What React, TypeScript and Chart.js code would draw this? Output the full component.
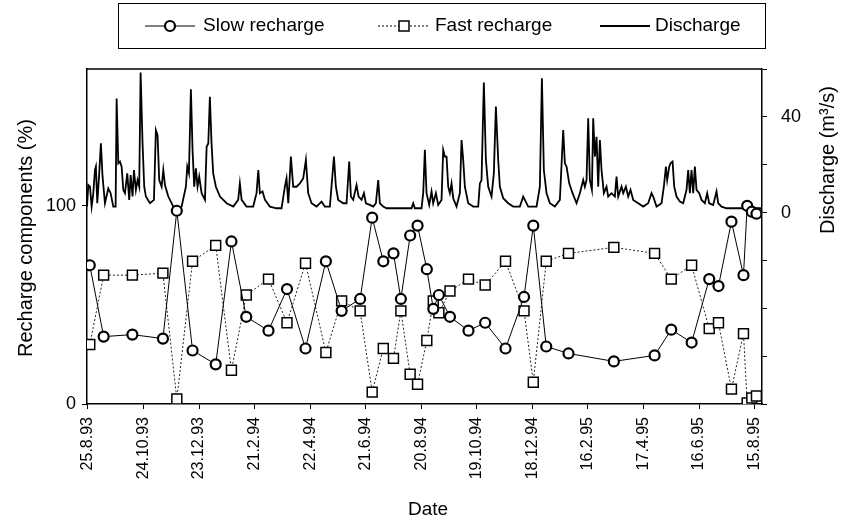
import React, { useEffect, useRef } from 'react';
import { Chart, registerables } from 'chart.js';

Chart.register(...registerables);

// x axis: days since 25.8.93
const tickDays = [0, 60, 120, 180, 240, 300, 360, 420, 480, 540, 600, 660, 720];
const tickLabels = ['25.8.93', '24.10.93', '23.12.93', '21.2.94', '22.4.94', '21.6.94', '20.8.94', '19.10.94', '18.12.94', '16.2.95', '17.4.95', '16.6.95', '15.8.95'];

const sampleDays = [2, 17, 48, 81, 96, 113, 138, 155, 171, 195, 215, 235, 257, 274, 294, 307, 319, 330, 338, 348, 356, 366, 373, 379, 391, 411, 429, 451, 471, 481, 495, 519, 568, 612, 630, 652, 671, 681, 695, 708, 712, 717, 722];
const slowRecharge = [70, 34, 35, 33, 97.5, 27, 20, 82, 44, 37, 58, 28, 72, 47, 53, 94, 72, 76, 53, 85, 90, 68, 48, 55, 44, 37, 41, 28, 54, 90, 29, 25.5, 21.5, 24.5, 37.5, 31, 63, 59.5, 92, 65, 100, 97, 96];
const fastRecharge = [30, 65, 65, 66, 2.5, 72, 80, 17, 55, 63, 41, 71, 26, 52, 47, 6, 28, 23, 47, 15, 10, 32, 52, 46, 57, 63, 60, 72, 47, 11, 72, 76, 79, 76, 63, 70, 38, 41, 7.5, 35.5, 0.5, 3, 4];

const dischargeDays = [
  -1, 0.4, 2.2, 4.0, 5.8, 7.6, 8.6, 10.1, 12.2, 14.0, 15.8, 18.4, 22.0, 24.5, 27.4, 29.9, 31.0, 32.8, 34.6, 36.4,
  38.2, 40.0, 42.5, 44.6, 46.1, 48.2, 49.7, 51.8, 53.6, 55.4, 56.9, 59.0, 60.8, 62.6, 67.0, 71.3, 73.4, 75.2, 77.0, 79.6,
  81.4, 83.2, 86.8, 92.2, 95.8, 101.2, 105.8, 107.3, 109.1, 111.2, 113.0, 114.8, 116.6, 118.4, 120.2, 122.8, 126.4, 128.2, 130.0, 131.7,
  133.5, 135.3, 138.2, 142.6, 149.8, 157.0, 162.3, 164.1, 166.0, 171.3, 178.5, 182.1, 184.0, 185.7, 188.6, 191.2, 196.5, 203.7, 209.1, 212.7,
  214.5, 216.4, 219.2, 221.7, 225.3, 228.9, 232.5, 235.4, 237.9, 241.5, 246.9, 252.3, 255.9, 261.3, 265.7, 267.8, 270.3, 275.7, 279.3, 282.2,
  284.0, 286.5, 290.1, 292.3, 295.5, 298.1, 300.2, 304.5, 308.1, 311.0, 313.5, 315.3, 318.9, 322.5, 349.5, 351.3, 353.1, 360.3, 362.1, 363.9,
  365.7, 368.6, 371.1, 372.9, 375.8, 378.3, 381.9, 383.7, 385.5, 387.3, 389.1, 390.9, 392.7, 394.5, 398.1, 401.7, 403.5, 405.3, 407.1, 410.7,
  416.1, 421.5, 423.3, 425.1, 427.6, 429.8, 432.3, 435.9, 438.4, 440.6, 443.1, 444.9, 448.5, 453.9, 459.3, 466.5, 470.1, 471.9, 475.5, 484.5,
  488.1, 490.3, 492.4, 495.3, 498.9, 504.3, 509.7, 513.3, 515.1, 516.9, 519.8, 523.4, 527.7, 531.3, 534.9, 536.7, 538.5, 540.3, 542.1, 544.3,
  545.7, 547.5, 549.3, 551.1, 552.9, 554.7, 557.2, 560.1, 561.9, 565.5, 569.1, 570.9, 572.7, 576.3, 578.1, 581.0, 583.5, 586.0, 588.9, 594.3,
  599.7, 605.1, 608.7, 610.5, 614.1, 619.5, 622.0, 624.2, 625.6, 627.8, 629.2, 631.4, 633.2, 635.7, 639.3, 642.9, 644.7, 646.5, 648.3, 650.1,
  651.9, 653.7, 655.5, 657.3, 660.2, 662.7, 666.3, 668.8, 671.0, 675.3, 678.9, 680.7, 684.3, 689.7, 728
];
const dischargeFlow = [
  2.5, 11.5, 10.8, 2.5, 8.1, 17.8, 19.2, 3.9, 16.4, 28.9, 15.0, 3.9, 10.1, 8.1, 2.5, 2.5, 47.7, 20.6, 21.3, 19.2,
  9.5, 8.1, 16.4, 5.3, 15.7, 6.7, 17.8, 9.5, 13.6, 10.8, 58.5, 28.9, 10.8, 6.7, 3.9, 5.3, 34.5, 32.4, 13.6, 10.8,
  17.8, 11.5, 6.7, 2.5, 1.8, 2.5, 10.8, 19.2, 16.4, 51.5, 26.2, 10.8, 18.5, 10.8, 15.0, 8.1, 5.3, 27.5, 28.9, 48.4,
  28.9, 16.4, 10.8, 6.7, 3.9, 2.5, 5.3, 12.2, 5.3, 2.5, 2.5, 8.1, 17.8, 8.1, 8.8, 5.3, 2.5, 1.8, 1.8, 10.8,
  14.3, 3.9, 23.4, 10.8, 10.8, 12.2, 14.3, 22.0, 8.1, 3.9, 2.5, 4.6, 2.5, 2.5, 23.4, 10.8, 5.3, 3.9, 3.9, 21.3,
  6.7, 5.3, 11.5, 6.7, 5.3, 8.1, 3.9, 3.2, 2.5, 3.9, 13.6, 3.9, 2.5, 1.8, 1.8, 3.9, 1.8, 1.8, 8.1, 26.2,
  8.1, 3.2, 8.8, 3.9, 8.1, 3.2, 5.3, 26.2, 23.4, 23.4, 10.8, 8.1, 12.2, 6.0, 2.5, 8.1, 30.3, 22.0, 10.8, 3.9,
  2.5, 2.5, 12.2, 13.6, 54.3, 22.0, 10.8, 6.7, 16.4, 44.3, 22.0, 10.8, 6.0, 3.9, 2.5, 2.5, 6.7, 5.3, 2.5, 2.5,
  10.8, 56.1, 17.8, 8.1, 3.9, 2.5, 5.3, 34.5, 20.6, 19.2, 12.2, 8.1, 3.9, 8.1, 13.6, 10.8, 13.6, 39.4, 13.6, 9.5,
  39.4, 23.4, 31.7, 10.8, 30.3, 17.8, 8.1, 10.8, 6.7, 8.1, 6.7, 15.0, 6.7, 10.8, 8.1, 10.8, 6.7, 9.5, 5.3, 3.9,
  2.5, 3.9, 8.1, 6.7, 2.5, 3.9, 10.8, 19.2, 13.6, 19.2, 20.6, 21.3, 10.8, 6.7, 4.6, 3.9, 6.7, 9.5, 17.8, 8.1,
  17.8, 8.1, 19.2, 9.5, 8.1, 5.3, 3.9, 8.1, 3.9, 3.2, 8.8, 3.9, 2.5, 1.8, 1.8
];

const FONT = '"Liberation Sans", Arial, Helvetica, sans-serif';

const decorPlugin = {
  id: 'decor',
  afterDraw(chart: any) {
    const { ctx, chartArea: a } = chart;
    ctx.save();
    ctx.strokeStyle = '#000';
    ctx.lineWidth = 1.5;
    ctx.beginPath();
    ctx.moveTo(a.left, a.top);
    ctx.lineTo(a.right, a.top);
    ctx.stroke();

    ctx.fillStyle = '#000';
    ctx.textAlign = 'center';
    ctx.textBaseline = 'middle';
    ctx.font = `19px ${FONT}`;
    ctx.fillText('Date', 428, 510);

    ctx.save();
    ctx.translate(26, 238);
    ctx.rotate(-Math.PI / 2);
    ctx.font = `20px ${FONT}`;
    ctx.fillText('Recharge components (%)', 0, 0);
    ctx.restore();

    ctx.save();
    ctx.translate(828, 160);
    ctx.rotate(-Math.PI / 2);
    ctx.font = `20px ${FONT}`;
    ctx.fillText('Discharge (m³/s)', 0, 0);
    ctx.restore();

    // legend
    ctx.lineWidth = 1;
    ctx.strokeRect(118.5, 3.5, 647, 45);
    const ly = 26;
    ctx.font = `19px ${FONT}`;
    ctx.textAlign = 'left';
    // slow
    ctx.lineWidth = 1.2;
    ctx.beginPath(); ctx.moveTo(145, ly); ctx.lineTo(195, ly); ctx.stroke();
    ctx.beginPath(); ctx.arc(170, ly, 5, 0, Math.PI * 2);
    ctx.fillStyle = '#fff'; ctx.fill();
    ctx.lineWidth = 2.2; ctx.stroke();
    ctx.fillStyle = '#000';
    ctx.fillText('Slow recharge', 203, ly);
    // fast
    ctx.lineWidth = 1;
    ctx.setLineDash([2, 2]);
    ctx.beginPath(); ctx.moveTo(378, ly); ctx.lineTo(430, ly); ctx.stroke();
    ctx.setLineDash([]);
    ctx.fillStyle = '#fff';
    ctx.fillRect(399, ly - 5, 10, 10);
    ctx.lineWidth = 1.5;
    ctx.strokeRect(399, ly - 5, 10, 10);
    ctx.fillStyle = '#000';
    ctx.fillText('Fast recharge', 435, ly);
    // discharge
    ctx.lineWidth = 1.8;
    ctx.beginPath(); ctx.moveTo(600, ly); ctx.lineTo(650, ly); ctx.stroke();
    ctx.fillText('Discharge', 655, ly);
    ctx.restore();
  },
};

export default function App() {
  const ref = useRef<HTMLCanvasElement | null>(null);

  useEffect(() => {
    document.body.style.margin = '0';
    const canvas = ref.current;
    if (!canvas) return;

    const axisGrid = { drawOnChartArea: false, drawTicks: true, tickLength: 5, color: '#000', lineWidth: 1 };
    const axisBorder = { display: true, color: '#000', width: 1.5 };

    const chart = new Chart(canvas, {
      type: 'line',
      data: {
        datasets: [
          {
            label: 'Slow recharge',
            data: sampleDays.map((d, i) => ({ x: d, y: slowRecharge[i] })),
            yAxisID: 'yL',
            borderColor: '#000',
            borderWidth: 1,
            pointStyle: 'circle',
            pointRadius: 5,
            pointBorderWidth: 2.2,
            pointBackgroundColor: '#fff',
            pointBorderColor: '#000',
            tension: 0,
            order: 1,
          },
          {
            label: 'Fast recharge',
            data: sampleDays.map((d, i) => ({ x: d, y: fastRecharge[i] })),
            yAxisID: 'yL',
            borderColor: '#222',
            borderWidth: 1,
            borderDash: [2, 2],
            pointStyle: 'rect',
            pointRadius: 7,
            pointBorderWidth: 1.5,
            pointBackgroundColor: '#fff',
            pointBorderColor: '#000',
            tension: 0,
            order: 2,
          },
          {
            label: 'Discharge',
            data: dischargeDays.map((d, i) => ({ x: d, y: dischargeFlow[i] })),
            yAxisID: 'yR',
            borderColor: '#000',
            borderWidth: 1.8,
            pointRadius: 0,
            tension: 0,
            order: 3,
          },
        ],
      },
      options: {
        responsive: false,
        animation: false,
        devicePixelRatio: 1,
        layout: { padding: { top: 69, left: 0, right: 0, bottom: 0 } },
        plugins: { legend: { display: false }, tooltip: { enabled: false } },
        scales: {
          x: {
            type: 'linear',
            min: -1,
            max: 728,
            afterBuildTicks: (scale: any) => {
              scale.ticks = tickDays.map((v) => ({ value: v }));
            },
            afterFit: (scale: any) => {
              scale.height = 119;
            },
            ticks: {
              autoSkip: false,
              maxRotation: 90,
              minRotation: 90,
              padding: 8,
              color: '#000',
              font: { family: FONT, size: 16 },
              callback: (v: any) => {
                const i = tickDays.indexOf(Number(v));
                return i >= 0 ? tickLabels[i] : '';
              },
            },
            grid: axisGrid,
            border: axisBorder,
          },
          yL: {
            type: 'linear',
            position: 'left',
            min: 0,
            max: 169,
            afterBuildTicks: (scale: any) => {
              scale.ticks = [{ value: 0 }, { value: 100 }];
            },
            afterFit: (scale: any) => {
              scale.width = 87;
            },
            ticks: {
              padding: 6,
              color: '#000',
              font: { family: FONT, size: 18 },
              callback: (v: any) => String(v),
            },
            grid: axisGrid,
            border: axisBorder,
          },
          yR: {
            type: 'linear',
            position: 'right',
            min: -80,
            max: 60,
            afterBuildTicks: (scale: any) => {
              scale.ticks = [-80, -60, -40, -20, 0, 20, 40, 60].map((v) => ({ value: v }));
            },
            afterFit: (scale: any) => {
              scale.width = 98;
            },
            ticks: {
              padding: 14,
              color: '#000',
              font: { family: FONT, size: 18 },
              callback: (v: any) => (Number(v) === 0 || Number(v) === 40 ? String(v) : ''),
            },
            grid: axisGrid,
            border: axisBorder,
          },
        },
      } as any,
      plugins: [decorPlugin],
    });

    return () => chart.destroy();
  }, []);

  return (
    <div style={{ width: 860, height: 523, background: '#fff' }}>
      <canvas ref={ref} width={860} height={523} style={{ display: 'block' }} />
    </div>
  );
}
